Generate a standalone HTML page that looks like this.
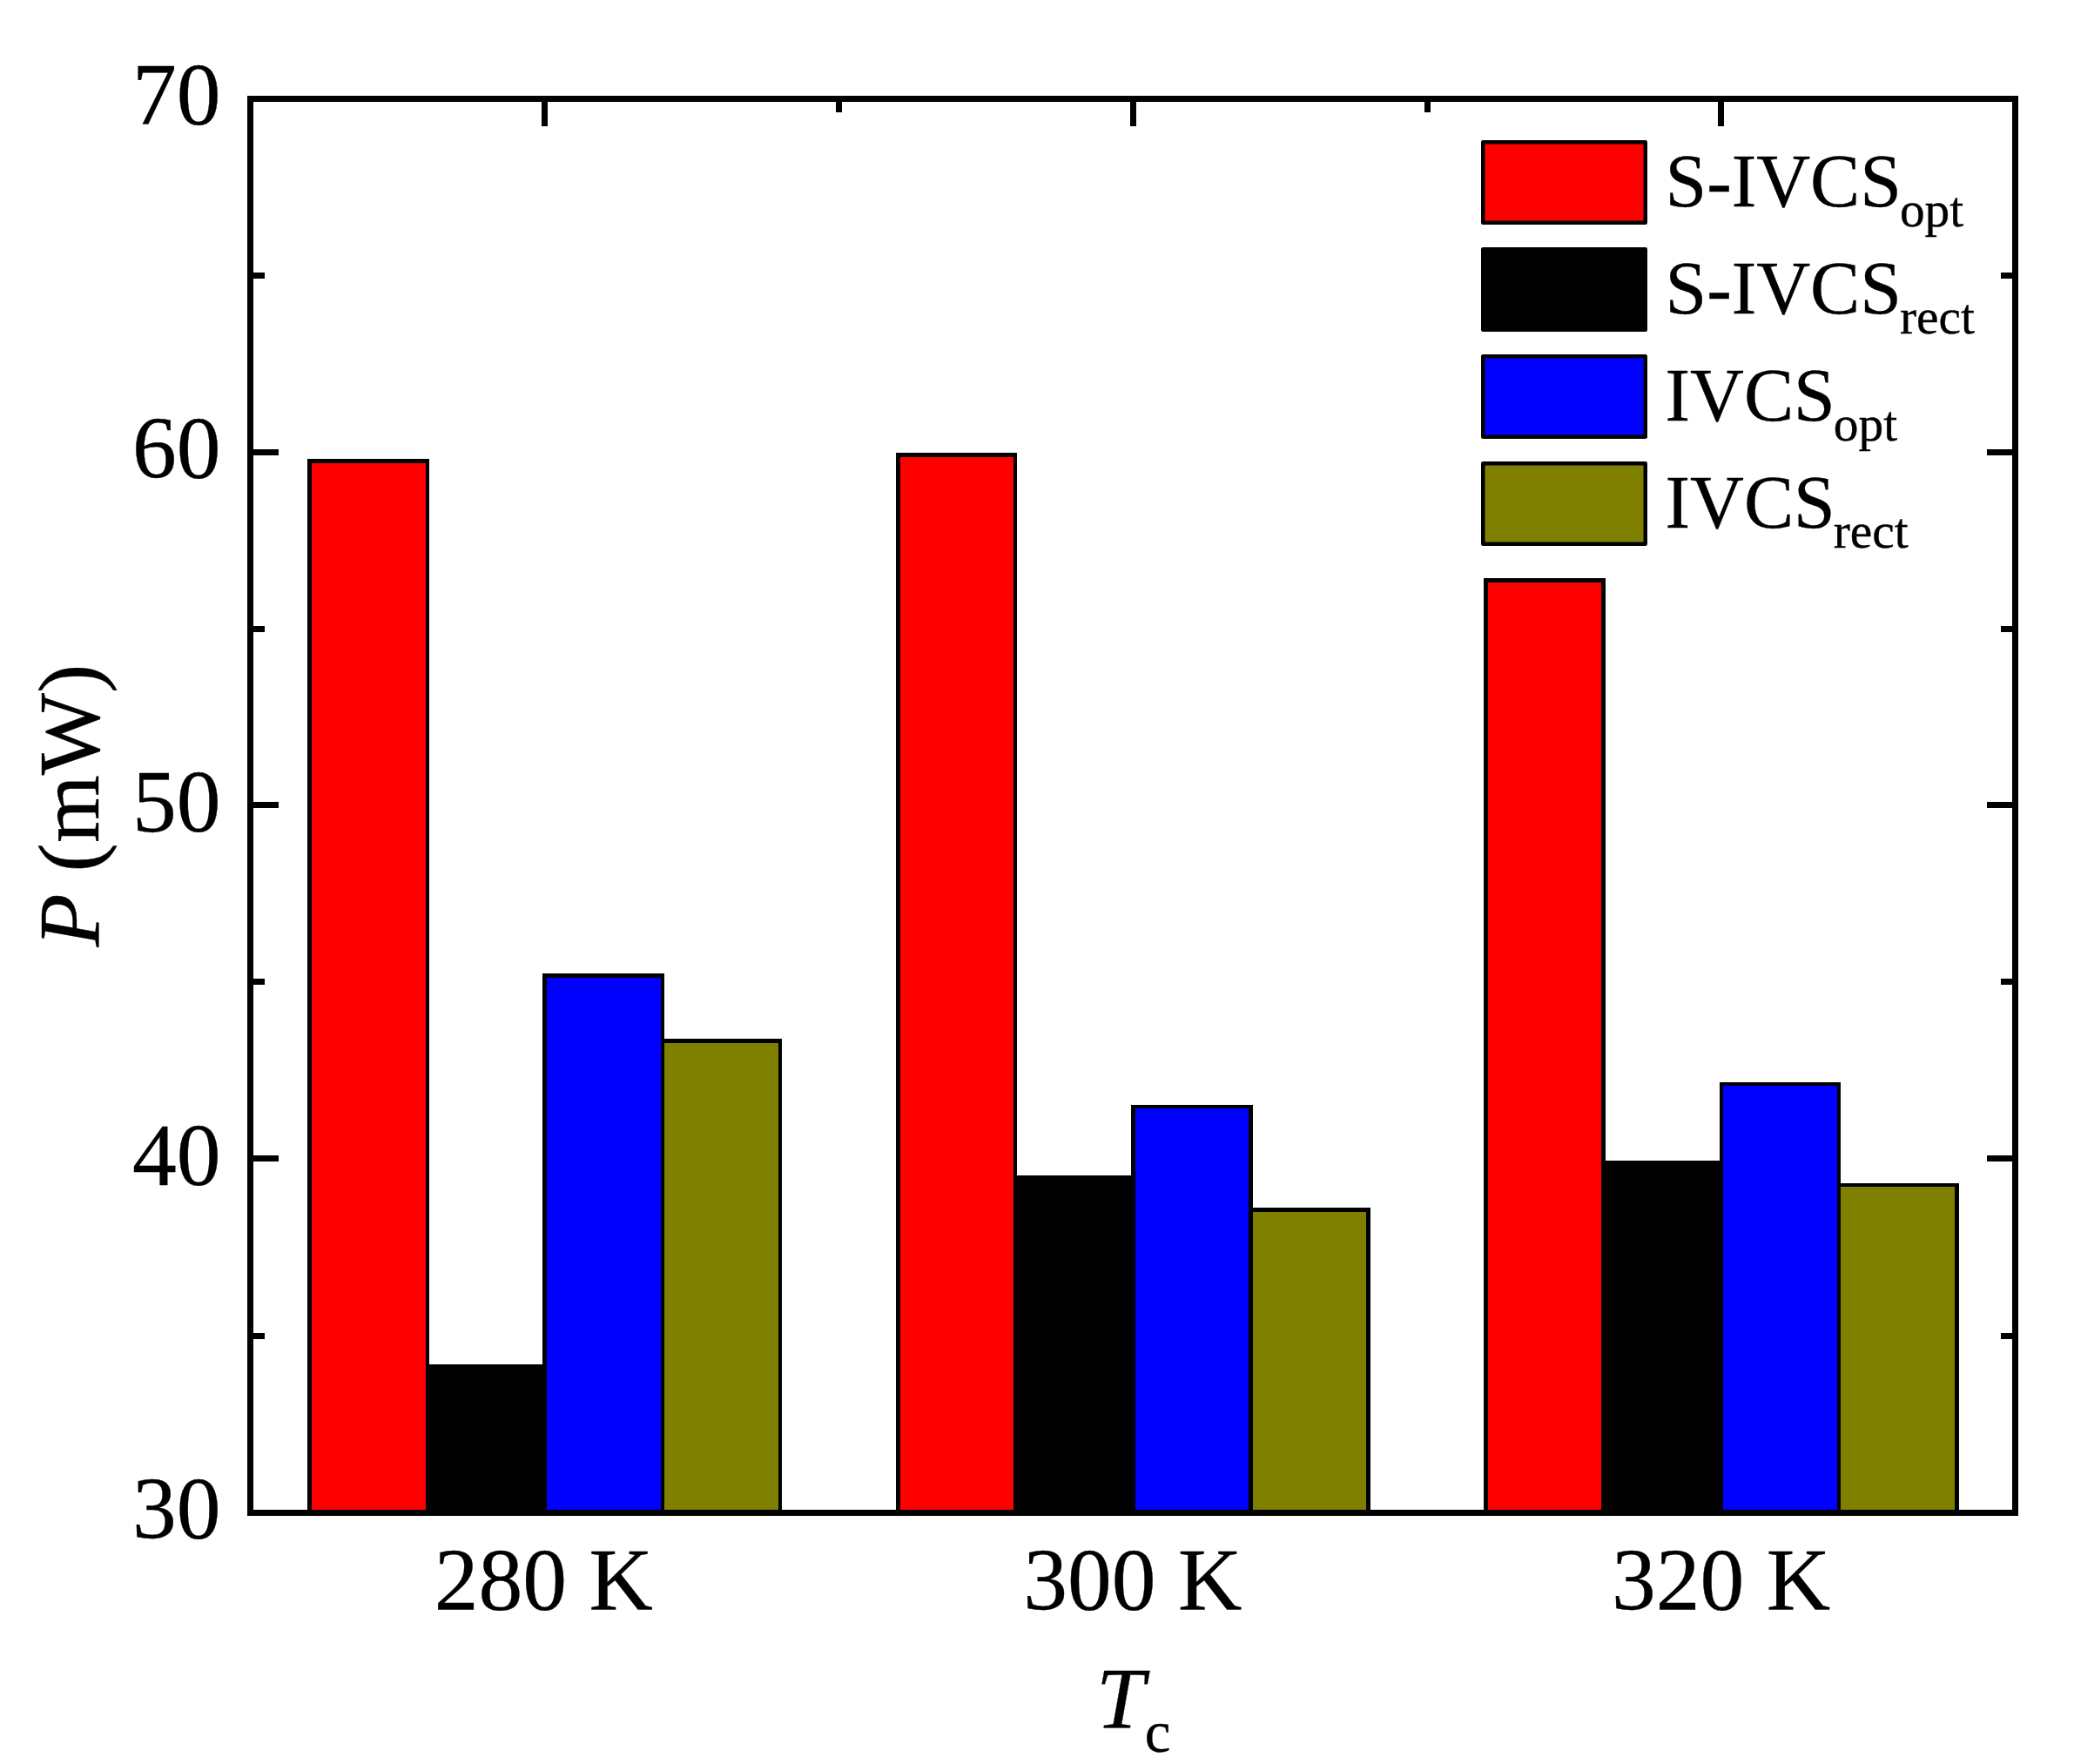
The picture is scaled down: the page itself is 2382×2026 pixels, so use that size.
<!DOCTYPE html>
<html lang="en"><head><meta charset="utf-8"><title>P vs Tc bar chart</title>
<style>html,body{margin:0;padding:0;background:#fff;}body{width:2382px;height:2026px;overflow:hidden;}svg{display:block;}text{font-family:"Liberation Serif","Times New Roman",Times,serif;fill:#000;stroke:#000;stroke-width:0.35px;stroke-linejoin:round;}</style>
</head><body>
<svg width="2382" height="2026" viewBox="0 0 2382 2026" shape-rendering="crispEdges">
<rect x="0" y="0" width="2382" height="2026" fill="#ffffff"/>
<g id="bars">
<rect x="353" y="527" width="140" height="1214" fill="#000000"/>
<rect x="489" y="1567" width="139" height="174" fill="#000000"/>
<rect x="623" y="1118" width="140" height="623" fill="#000000"/>
<rect x="759" y="1193" width="139" height="548" fill="#000000"/>
<rect x="1029" y="520" width="139" height="1221" fill="#000000"/>
<rect x="1164" y="1350" width="140" height="391" fill="#000000"/>
<rect x="1299" y="1269" width="140" height="472" fill="#000000"/>
<rect x="1434" y="1387" width="140" height="354" fill="#000000"/>
<rect x="1704" y="664" width="140" height="1077" fill="#000000"/>
<rect x="1839" y="1333" width="140" height="408" fill="#000000"/>
<rect x="1975" y="1243" width="139" height="498" fill="#000000"/>
<rect x="2110" y="1359" width="140" height="382" fill="#000000"/>
<rect x="358" y="532" width="131" height="1202" fill="#ff0000"/>
<rect x="628" y="1123" width="131" height="611" fill="#0000ff"/>
<rect x="763" y="1198" width="131" height="536" fill="#808000"/>
<rect x="1034" y="525" width="130" height="1209" fill="#ff0000"/>
<rect x="1304" y="1273" width="130" height="461" fill="#0000ff"/>
<rect x="1439" y="1392" width="130" height="342" fill="#808000"/>
<rect x="1709" y="669" width="130" height="1065" fill="#ff0000"/>
<rect x="1979" y="1247" width="131" height="487" fill="#0000ff"/>
<rect x="2114" y="1363" width="131" height="371" fill="#808000"/>
</g>
<g id="frame" fill="#000">
<rect x="284" y="110" width="2034" height="7" fill="#000000"/>
<rect x="284" y="1734" width="2034" height="7" fill="#000000"/>
<rect x="284" y="110" width="7" height="1631" fill="#000000"/>
<rect x="2311" y="110" width="7" height="1631" fill="#000000"/>
</g>
<g id="ticks" fill="#000">
<rect x="284" y="516" width="36" height="7" fill="#000000"/>
<rect x="2282" y="516" width="36" height="7" fill="#000000"/>
<rect x="284" y="921" width="36" height="7" fill="#000000"/>
<rect x="2282" y="921" width="36" height="7" fill="#000000"/>
<rect x="284" y="1327" width="36" height="7" fill="#000000"/>
<rect x="2282" y="1327" width="36" height="7" fill="#000000"/>
<rect x="284" y="313" width="20" height="7" fill="#000000"/>
<rect x="2298" y="313" width="20" height="7" fill="#000000"/>
<rect x="284" y="719" width="20" height="7" fill="#000000"/>
<rect x="2298" y="719" width="20" height="7" fill="#000000"/>
<rect x="284" y="1124" width="20" height="7" fill="#000000"/>
<rect x="2298" y="1124" width="20" height="7" fill="#000000"/>
<rect x="284" y="1531" width="20" height="7" fill="#000000"/>
<rect x="2298" y="1531" width="20" height="7" fill="#000000"/>
<rect x="622" y="110" width="7" height="35" fill="#000000"/>
<rect x="1298" y="110" width="7" height="35" fill="#000000"/>
<rect x="1973" y="110" width="7" height="35" fill="#000000"/>
<rect x="960" y="110" width="7" height="19" fill="#000000"/>
<rect x="1636" y="110" width="7" height="19" fill="#000000"/>
</g>
<g id="ylabels" font-size="101.6" text-anchor="end">
<text x="253.5" y="142.7">70</text>
<text x="253.5" y="548.7">60</text>
<text x="253.5" y="954.7">50</text>
<text x="253.5" y="1360.7">40</text>
<text x="253.5" y="1767.2">30</text>
</g>
<g id="xlabels" font-size="101.6" text-anchor="middle">
<text x="624.3" y="1848.6">280 K</text>
<text x="1300.8" y="1848.6">300 K</text>
<text x="1976.6" y="1848.6">320 K</text>
</g>
<text id="xtitle" x="1259" y="1983.5" font-size="100"><tspan font-style="italic">T</tspan><tspan font-size="67" dy="28">c</tspan></text>
<text id="ytitle" transform="translate(112.5,1087.5) rotate(-90)" font-size="100"><tspan font-style="italic">P</tspan> (mW)</text>
<g id="legend">
<rect x="1703.25" y="163.25" width="186.5" height="92.5" fill="#ff0000" stroke="#000" stroke-width="4.5" stroke-linejoin="round" shape-rendering="geometricPrecision"/>
<text x="1912.5" y="237.2" font-size="85.7">S-IVCS<tspan font-size="57.4" dx="-2" dy="23">opt</tspan></text>
<rect x="1703.25" y="286.25" width="186.5" height="92.5" fill="#000000" stroke="#000" stroke-width="4.5" stroke-linejoin="round" shape-rendering="geometricPrecision"/>
<text x="1912.5" y="360.2" font-size="85.7">S-IVCS<tspan font-size="57.4" dx="-2" dy="23">rect</tspan></text>
<rect x="1703.25" y="409.25" width="186.5" height="92.5" fill="#0000ff" stroke="#000" stroke-width="4.5" stroke-linejoin="round" shape-rendering="geometricPrecision"/>
<text x="1912.5" y="483.2" font-size="85.7">IVCS<tspan font-size="57.4" dx="-2" dy="23">opt</tspan></text>
<rect x="1703.25" y="532.25" width="186.5" height="92.5" fill="#808000" stroke="#000" stroke-width="4.5" stroke-linejoin="round" shape-rendering="geometricPrecision"/>
<text x="1912.5" y="606.2" font-size="85.7">IVCS<tspan font-size="57.4" dx="-2" dy="23">rect</tspan></text>
</g>
</svg></body></html>
